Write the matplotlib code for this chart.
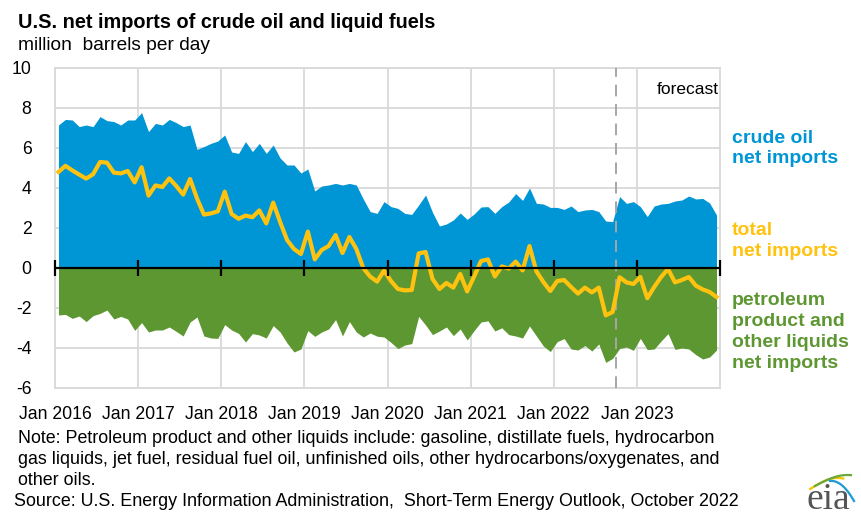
import numpy as np
import matplotlib
matplotlib.use("Agg")
import matplotlib.pyplot as plt

plt.rcParams['font.family'] = ['Liberation Sans', 'DejaVu Sans']
plt.rcParams['axes.unicode_minus'] = False

# ---- data (million barrels per day), monthly Jan 2016 - Dec 2023 ----
start_year = 2016
crude = [7.15, 7.43, 7.40, 7.07, 7.15, 7.07, 7.57, 7.37, 7.32, 7.15, 7.40, 7.40,
         7.77, 6.82, 7.23, 7.15, 7.43, 7.27, 7.07, 7.15, 5.93, 6.07, 6.23, 6.35,
         6.65, 5.80, 5.73, 6.32, 5.82, 6.23, 5.73, 6.15, 5.50, 5.15, 5.15, 4.75,
         4.95, 3.85, 4.10, 4.15, 4.23, 4.15, 4.23, 4.15, 3.45, 2.82, 2.73, 3.32,
         3.07, 2.98, 2.73, 2.68, 3.15, 3.65, 2.78, 2.10, 2.20, 2.40, 2.75, 2.43,
         2.70, 3.05, 3.07, 2.73, 3.07, 3.30, 3.72, 3.38, 4.00, 3.23, 3.20, 3.03,
         3.03, 2.93, 3.10, 2.82, 2.90, 2.93, 2.82, 2.35, 2.32, 3.57, 3.23, 3.32,
         3.07, 2.57, 3.10, 3.20, 3.23, 3.35, 3.40, 3.60, 3.45, 3.48, 3.25, 2.65]
products = [-2.35, -2.32, -2.52, -2.40, -2.68, -2.38, -2.27, -2.10, -2.55, -2.42, -2.55, -3.12,
            -2.73, -3.20, -3.10, -3.10, -2.95, -3.17, -3.40, -2.70, -2.45, -3.40, -3.50, -3.52,
            -2.83, -3.10, -3.27, -3.70, -3.28, -3.35, -3.50, -2.88, -3.20, -3.75, -4.20, -4.05,
            -3.13, -3.42, -3.20, -3.05, -2.58, -3.40, -2.68, -3.20, -3.45, -3.25, -3.41, -3.45,
            -3.72, -4.03, -3.85, -3.78, -2.42, -2.85, -3.33, -3.15, -2.95, -3.38, -3.05, -3.60,
            -3.13, -2.70, -2.64, -3.15, -2.99, -3.33, -3.40, -3.50, -2.90, -3.40, -3.90, -4.18,
            -3.68, -3.53, -4.05, -4.10, -3.88, -4.15, -3.80, -4.72, -4.52, -4.03, -3.95, -4.12,
            -3.52, -4.08, -4.05, -3.65, -3.28, -4.07, -4.00, -4.05, -4.33, -4.55, -4.45, -4.10]
tick_years = [2016, 2017, 2018, 2019, 2020, 2021, 2022, 2023]
tick_labels = ["Jan 2016", "Jan 2017", "Jan 2018", "Jan 2019", "Jan 2020",
               "Jan 2021", "Jan 2022", "Jan 2023"]
forecast_start = 2022.75

crude = np.array(crude)
products = np.array(products)
total = crude + products
x = start_year + (np.arange(len(crude)) + 0.5) / 12.0

BLUE = '#0096D6'
GREEN = '#5D9732'
YELLOW = '#FFC20E'
GRID = '#D9D9D9'

fig = plt.figure(figsize=(8.61, 5.20), dpi=100)
ax = fig.add_axes([55/861, 1-388/520, (720-55)/861, (388-68)/520])

ax.fill_between(x, 0, crude, color=BLUE, linewidth=0, zorder=2)
ax.fill_between(x, 0, products, color=GREEN, linewidth=0, zorder=2)
ax.plot(x, total, color=YELLOW, lw=3.0, zorder=4, solid_joinstyle='round')

ax.set_xlim(2016, 2024)
ax.set_ylim(-6, 10)
ax.set_yticks(range(-6, 11, 2))
ax.set_xticks(tick_years)
ax.set_xticklabels(tick_labels)
ax.grid(True, color=GRID, lw=1.3, zorder=0)
ax.set_axisbelow(True)
for s in ax.spines.values():
    s.set_color(GRID)
    s.set_linewidth(1.3)
ax.tick_params(axis='both', length=0, labelsize=12.7, colors='black')
ax.tick_params(axis='y', pad=17)
ax.tick_params(axis='x', pad=13)

# zero line with year tick marks
ax.axhline(0, color='black', lw=1.6, zorder=5)
ax.plot(tick_years + [2024], [0] * (len(tick_years) + 1), ls='none', marker='|',
        ms=11, mew=1.6, color='black', zorder=5, clip_on=False)

# forecast divider
ax.axvline(forecast_start, color='#A6A6A6', lw=1.4, ls=(0, (6, 4)), zorder=3)
ax.text(2023.98, 8.95, "forecast", ha='right', va='center', fontsize=12.5, color='black')

# series labels on right
fig.text(732/861, 1-148.5/520, "crude oil\nnet imports", color=BLUE, fontsize=14,
         fontweight='bold', ha='left', va='center', linespacing=1.3)
fig.text(732/861, 1-241/520, "total\nnet imports", color=YELLOW, fontsize=14,
         fontweight='bold', ha='left', va='center', linespacing=1.3)
fig.text(732/861, 1-332/520, "petroleum\nproduct and\nother liquids\nnet imports",
         color=GREEN, fontsize=14, fontweight='bold', ha='left', va='center',
         linespacing=1.3)

# titles
fig.text(18/861, 1-22/520, "U.S. net imports of crude oil and liquid fuels",
         fontsize=14.3, fontweight='bold', ha='left', va='center')
fig.text(18/861, 1-45/520, "million  barrels per day", fontsize=13.8,
         ha='left', va='center')

# notes
fig.text(18/861, 1-459.5/520,
         "Note: Petroleum product and other liquids include: gasoline, distillate fuels, hydrocarbon\n"
         "gas liquids, jet fuel, residual fuel oil, unfinished oils, other hydrocarbons/oxygenates, and\n"
         "other oils.", fontsize=12.9, ha='left', va='center', linespacing=1.3)
fig.text(14/861, 1-502/520,
         "Source: U.S. Energy Information Administration,  Short-Term Energy Outlook, October 2022",
         fontsize=12.9, ha='left', va='center')

# eia logo
fig.text(828/861, 1-500/520, "eia", fontsize=27, family='Liberation Serif',
         color='#555555', ha='center', va='center')
lax = fig.add_axes([797/861, 1-520/520, 60/861, 50/520])
lax.set_xlim(0, 1)
lax.set_ylim(0, 1)
lax.axis('off')
t = np.linspace(0, 1, 50)
lax.plot(0.22 + 0.55 * t, 0.62 + 0.22 * np.sin(t * np.pi * 0.6), color='#F2C500', lw=1.6)
lax.plot(0.30 + 0.60 * t, 0.68 + 0.22 * np.sin(t * np.pi * 0.55), color='#6AA83B', lw=1.6)
lax.plot(0.55 + 0.40 * t, 0.78 - 0.45 * t ** 2 + 0.05 * t, color='#1E9AD6', lw=1.6)

fig.savefig("out.png", dpi=100)
